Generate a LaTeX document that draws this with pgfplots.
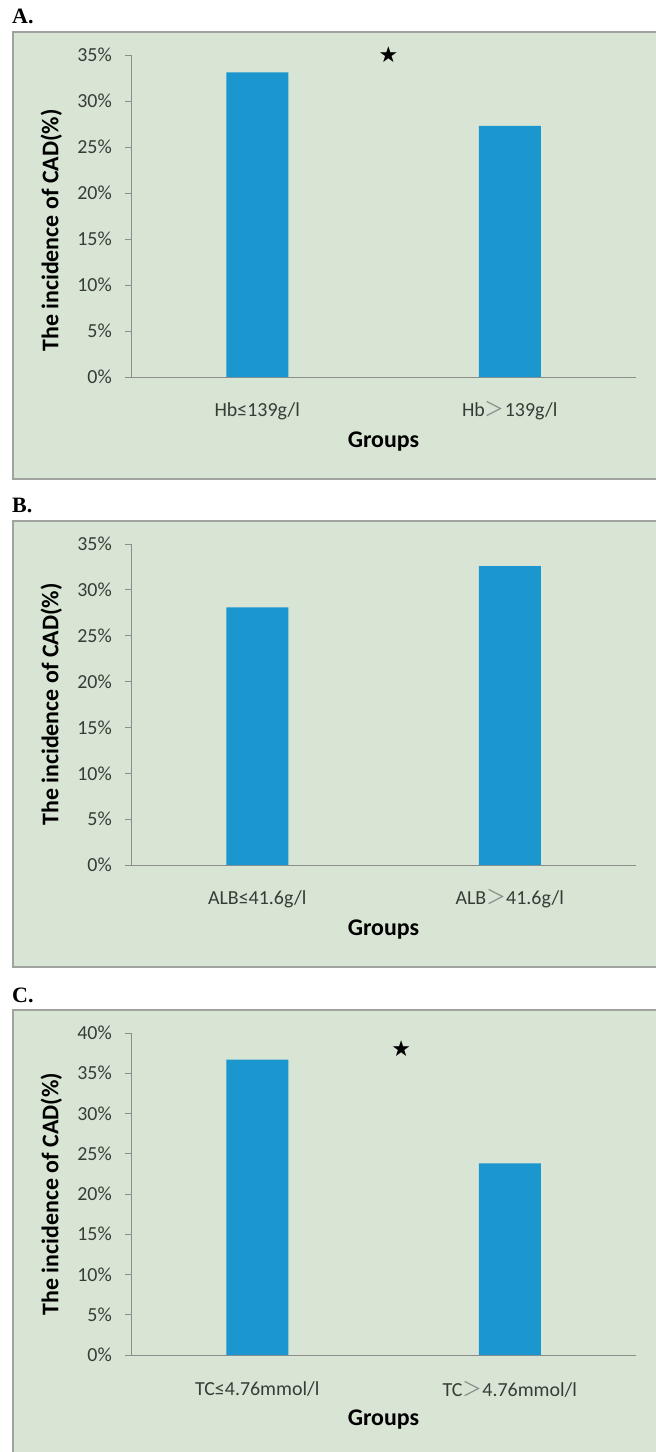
\documentclass[border=0pt]{standalone}
\usepackage{fontspec}
\usepackage{pgfplots}
\pgfplotsset{compat=1.18}
\setmainfont{Carlito}
\newfontfamily\cjk{Noto Sans CJK SC}
\newfontfamily\djv{DejaVu Sans}
\newfontfamily\tnr{Liberation Serif}
\definecolor{bg}{RGB}{216,229,213}
\definecolor{boxline}{RGB}{160,162,160}
\definecolor{axgray}{RGB}{140,142,140}
\definecolor{barblue}{RGB}{28,150,206}
\definecolor{ticktext}{RGB}{55,60,55}
\newcommand{\gt}{{\cjk\color{axgray}＞}}
\pgfplotsset{
  panel/.style={
    scale only axis, width=505bp,
    xmin=-0.5, xmax=1.5, ymin=0,
    axis lines=left,
    axis line style={draw=axgray, line width=1bp, -},
    xtick={0,1},
    x tick style={draw=none},
    y tick style={draw=axgray, line width=0.8bp},
    tick align=outside,
    major tick length=6bp,
    /pgf/number format/assume math mode=true,
    yticklabel={\pgfmathprintnumber{\tick}\%},
    yticklabel style={font=\fontsize{20}{24}\selectfont, text=ticktext, anchor=east, inner sep=0pt, xshift=-13bp},
    xticklabel style={font=\fontsize{20}{24}\selectfont, text=ticktext, anchor=center, yshift=-28bp},
    ylabel={The incidence of CAD(\%)},
    xlabel={Groups},
    ylabelpos/.initial=0.5,
    every axis y label/.style={at={(axis description cs:-0.158,\pgfkeysvalueof{/pgfplots/ylabelpos})}, anchor=center, rotate=90, font=\bfseries\fontsize{24}{28}\selectfont},
    every axis x label/.style={at={(axis description cs:0.5,-0.2)}, anchor=center, font=\bfseries\fontsize{24}{28}\selectfont},
    clip=false,
  },
  bars/.style={ybar, bar width=62bp, fill=barblue, draw=none},
}
\begin{document}
\begin{tikzpicture}
\path[use as bounding box] (0,0) rectangle (656bp,-1452bp);
% panel frames
\draw[draw=boxline, line width=1.2bp, fill=bg] (13bp,-32bp) rectangle (670bp,-479bp);
\draw[draw=boxline, line width=1.2bp, fill=bg] (13bp,-521bp) rectangle (670bp,-967bp);
\draw[draw=boxline, line width=1.2bp, fill=bg] (13bp,-1010bp) rectangle (670bp,-1470bp);
\node[anchor=base west, inner sep=0pt, font=\tnr\bfseries\fontsize{22}{24}\selectfont] at (12bp,-23bp) {A.};
\node[anchor=base west, inner sep=0pt, font=\tnr\bfseries\fontsize{22}{24}\selectfont] at (12bp,-512bp) {B.};
\node[anchor=base west, inner sep=0pt, font=\tnr\bfseries\fontsize{22}{24}\selectfont] at (12bp,-1002bp) {C.};

% Panel A
\begin{axis}[panel, ylabelpos=0.455, at={(131bp,-377bp)}, anchor=south west, height=322bp,
  ymax=35, ytick={0,5,...,35},
  xticklabels={Hb≤139g/l, Hb\gt139g/l}]
\addplot[bars] coordinates {(0,33.1) (1,27.3)};
\node[font=\djv\fontsize{22}{24}\selectfont] at (axis cs:0.52,35) {★};
\end{axis}

% Panel B
\begin{axis}[panel, at={(131bp,-865bp)}, anchor=south west, height=321bp,
  ymax=35, ytick={0,5,...,35},
  xticklabels={ALB≤41.6g/l, ALB\gt41.6g/l}]
\addplot[bars] coordinates {(0,28.1) (1,32.6)};
\end{axis}

% Panel C
\begin{axis}[panel, at={(131bp,-1355bp)}, anchor=south west, height=322bp,
  ymax=40, ytick={0,5,...,40},
  xticklabels={TC≤4.76mmol/l, TC\gt4.76mmol/l}]
\addplot[bars] coordinates {(0,36.7) (1,23.8)};
\node[font=\djv\fontsize{22}{24}\selectfont] at (axis cs:0.57,38.1) {★};
\end{axis}
\end{tikzpicture}
\end{document}
